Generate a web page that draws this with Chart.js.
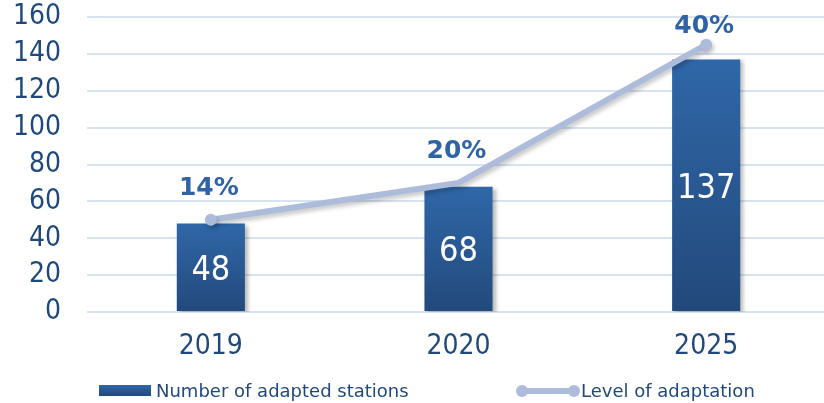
<!DOCTYPE html>
<html>
<head>
<meta charset="utf-8">
<script src="https://cdn.jsdelivr.net/npm/chart.js@4.4.1/dist/chart.umd.min.js"></script>
<style>
  html, body { margin: 0; padding: 0; background: #fff; overflow: hidden; }
  #wrap { position: relative; width: 824px; height: 403px; overflow: hidden; }
  canvas { display: block; }
</style>
</head>
<body>
<div id="wrap"><canvas id="chart" width="830" height="403"></canvas></div>
<script>
// data
const years = ['2019', '2020', '2025'];
const stations = [48, 68, 137];
const adaptationLine = [50, 70, 145];
const adaptationLabels = ['14%', '20%', '40%'];
const yMin = 0;
const yMax = 160;
const yStep = 20;

const navy = '#1f497d';
const pctColor = '#2e64a6';
const lineColor = '#aebcdc';
const gridColor = '#d8e3f2';
const barTop = '#2f67a8';
const barBottom = '#23497b';
const condensed = '"DejaVu Sans Condensed", "DejaVu Sans", sans-serif';
const plain = '"DejaVu Sans", sans-serif';

function barGradient(ctx) {
  const chart = ctx.chart;
  if (!chart.chartArea || ctx.raw === undefined) return barTop;
  const yScale = chart.scales.y;
  const top = yScale.getPixelForValue(ctx.raw);
  const bottom = yScale.getPixelForValue(0);
  const g = chart.ctx.createLinearGradient(0, top, 0, bottom);
  g.addColorStop(0, barTop);
  g.addColorStop(1, barBottom);
  return g;
}

// soft shadows under the bars and the line
const shadowPlugin = {
  id: 'shadows',
  beforeDatasetDraw(chart, args) {
    const ctx = chart.ctx;
    ctx.save();
    if (args.meta.type === 'bar') {
      ctx.shadowColor = 'rgba(0,0,0,0.28)';
      ctx.shadowBlur = 4;
      ctx.shadowOffsetX = 3;
      ctx.shadowOffsetY = 2;
    } else {
      ctx.shadowColor = 'rgba(0,0,0,0.22)';
      ctx.shadowBlur = 4;
      ctx.shadowOffsetX = 2;
      ctx.shadowOffsetY = 3;
    }
  },
  afterDatasetDraw(chart) {
    chart.ctx.restore();
  }
};

const valueLabels = {
  id: 'valueLabels',
  afterDatasetsDraw(chart) {
    const ctx = chart.ctx;
    ctx.save();
    ctx.textAlign = 'center';
    ctx.textBaseline = 'alphabetic';

    const barMeta = chart.getDatasetMeta(0);
    ctx.fillStyle = '#ffffff';
    ctx.font = '34px ' + condensed;
    barMeta.data.forEach((el, i) => {
      const mid = (el.y + el.base) / 2;
      ctx.fillText(String(stations[i]), el.x, mid + 12.5);
    });

    const lineMeta = chart.getDatasetMeta(1);
    ctx.fillStyle = pctColor;
    ctx.font = 'bold 25px ' + plain;
    lineMeta.data.forEach((el, i) => {
      const base = Math.max(el.y - 25, 33);
      ctx.fillText(adaptationLabels[i], el.x - 2, base);
    });
    ctx.restore();
  }
};

const bottomLegend = {
  id: 'bottomLegend',
  afterDraw(chart) {
    const ctx = chart.ctx;
    const sets = chart.data.datasets;
    ctx.save();
    ctx.font = '18px ' + plain;
    ctx.textBaseline = 'alphabetic';

    const g = ctx.createLinearGradient(0, 385, 0, 396);
    g.addColorStop(0, barTop);
    g.addColorStop(1, barBottom);
    ctx.fillStyle = g;
    ctx.fillRect(99, 385, 52, 11);
    ctx.fillStyle = navy;
    ctx.fillText(sets[0].label, 156, 397);

    ctx.strokeStyle = lineColor;
    ctx.lineWidth = 6;
    ctx.beginPath();
    ctx.moveTo(522, 391);
    ctx.lineTo(574, 391);
    ctx.stroke();
    ctx.fillStyle = lineColor;
    [522, 574].forEach(x => {
      ctx.beginPath();
      ctx.arc(x, 391, 6, 0, Math.PI * 2);
      ctx.fill();
    });
    ctx.fillStyle = navy;
    ctx.fillText(sets[1].label, 581, 397);
    ctx.restore();
  }
};

const chart = new Chart(document.getElementById('chart'), {
  type: 'bar',
  data: {
    labels: years,
    datasets: [
      {
        type: 'bar',
        label: 'Number of adapted stations',
        data: stations,
        backgroundColor: barGradient,
        borderWidth: 0,
        categoryPercentage: 1,
        barPercentage: 0.275,
        order: 2,
      },
      {
        type: 'line',
        label: 'Level of adaptation',
        data: adaptationLine,
        borderColor: lineColor,
        backgroundColor: lineColor,
        borderWidth: 6,
        pointRadius: (ctx) => (ctx.dataIndex === 1 ? 0 : 6),
        pointBorderWidth: 0,
        tension: 0,
        order: 1,
      },
    ],
  },
  options: {
    responsive: false,
    animation: false,
    layout: {
      autoPadding: false,
      padding: { left: 13, right: 0, top: 17, bottom: 41 },
    },
    plugins: {
      legend: { display: false },
      tooltip: { enabled: false },
    },
    scales: {
      x: {
        grid: { display: false, drawTicks: false },
        border: { display: false },
        ticks: {
          color: navy,
          font: { family: condensed, size: 28 },
          padding: 18,
        },
        afterFit(scale) {
          scale.height = 50;
          scale.paddingLeft = 0;
          scale.paddingRight = 0;
        },
      },
      y: {
        min: yMin,
        max: yMax,
        border: { display: false },
        grid: { color: gridColor, lineWidth: 2, drawTicks: false },
        ticks: {
          stepSize: yStep,
          autoSkip: false,
          color: navy,
          font: { family: condensed, size: 28 },
          padding: 26,
        },
        afterFit(scale) {
          scale.width = 74;
          scale.paddingTop = 0;
          scale.paddingBottom = 0;
        },
      },
    },
  },
  plugins: [shadowPlugin, valueLabels, bottomLegend],
});
</script>
</body>
</html>
